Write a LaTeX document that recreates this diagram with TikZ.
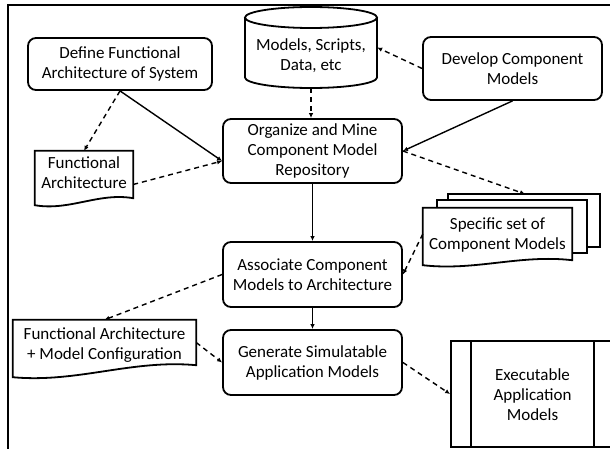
\documentclass[tikz,border=0pt]{standalone}
\usepackage{fontspec}
\setmainfont{Carlito}
\usetikzlibrary{arrows.meta,calc}
\newcommand\mydocpath[2]{%
  \draw[shapeline] ($(#1.south west)+(0pt,-#2)$) -- (#1.north west) -- (#1.north east) -- (#1.south east)
    .. controls ($(#1.south east)!0.35!(#1.south west)+(0pt,6pt)$) and ($(#1.south west)!0.35!(#1.south east)+(0pt,-#2-6pt)$)
    .. ($(#1.south west)+(0pt,-#2)$) -- cycle;}
\begin{document}
\begin{tikzpicture}[x=1pt,y=-1pt,
  font=\fontsize{17}{20}\selectfont,
  box/.style={draw, line width=1.8pt, rounded corners=8pt, align=center, inner sep=0pt, minimum width=179pt},
  plain/.style={align=center, inner sep=0pt},
  flow/.style={line width=1.4pt, -{Latex[length=5pt,width=4.5pt]}},
  dflow/.style={flow, dash pattern=on 5pt off 4pt},
  shapeline/.style={line width=1.8pt, fill=white, line join=miter}]
\useasboundingbox (0,0) rectangle (610,449);
% frame
\draw[line width=2.2pt] (8,460) -- (8,5) -- (620,5);

% process boxes
\node[box, minimum width=184pt, minimum height=52pt] (define) at (120,64) {Define Functional\\Architecture of System};
\node[box, minimum height=63pt] (develop) at (512.5,68.5) {Develop Component\\Models};
\node[box, minimum height=64pt] (organize) at (312.5,151) {Organize and Mine\\Component Model\\Repository};
\node[box, minimum height=65pt] (associate) at (312.5,274.5) {Associate Component\\Models to Architecture};
\node[box, minimum height=65pt] (generate) at (312.5,362.5) {Generate Simulatable\\Application Models};

% database cylinder
\node[plain, minimum width=132pt, minimum height=81pt] (db) at (311,47.5) {};
\draw[line width=1.8pt] (245,17.5) -- (245,77.5) arc[start angle=180, end angle=360, x radius=66pt, y radius=10.5pt] -- (377,17.5);
\draw[line width=1.8pt] (311,17.5) ellipse [x radius=66pt, y radius=10.5pt];
\node[plain] (dbtext) at (311,56) {Models, Scripts,\\Data, etc};

% documents
\node[plain, minimum width=98pt, minimum height=47pt] (fadoc) at (84,174.5) {};
\mydocpath{fadoc}{7pt}
\node[plain] (fadoctext) at (84,173) {Functional\\Architecture};

\node[plain, minimum width=183pt, minimum height=45pt] (famc) at (104.5,342.5) {};
\mydocpath{famc}{12pt}
\node[plain] (famctext) at (104.5,345) {Functional Architecture\\+ Model Configuration};

\draw[shapeline] (448,194) rectangle (600,247);
\draw[shapeline] (437,200) rectangle (587,253);
\node[plain, minimum width=149pt, minimum height=52pt] (spec) at (497.5,234) {};
\mydocpath{spec}{5pt}
\node[plain] (spectext) at (497.5,235) {Specific set of\\Component Models};
\coordinate (specback) at (525,194);

% predefined process
\node[draw, line width=1.8pt, minimum width=163pt, minimum height=106pt, inner sep=0pt] (exec) at (532.5,394) {};
\draw[line width=1.8pt] ($(exec.north west)+(21pt,0pt)$) -- ($(exec.south west)+(21pt,0pt)$);
\draw[line width=1.8pt] ($(exec.north east)+(-21pt,0pt)$) -- ($(exec.south east)+(-21pt,0pt)$);
\node[plain] (exectext) at (532.5,395) {Executable\\Application\\Models};

% connectors
\coordinate (orgin) at ($(organize.west)+(0pt,-10pt)$);
\coordinate (fastart) at ($(fadoc.east)+(0pt,-10pt)$);
\draw[flow] (define.south) -- (orgin);
\draw[dflow] (define.south) -- (fadoc.north);
\draw[dflow] (fastart) -- (orgin);
\draw[dflow] (db.south) -- (db.south |- organize.north);
\draw[dflow] (develop.west) -- (db.east);
\draw[flow] (develop.south) -- (organize.east);
\draw[dflow] (organize.east) -- (specback);
\draw[flow] (organize.south) -- (associate.north);
\draw[dflow] (spec.west) -- (associate.east);
\draw[dflow] (associate.west) -- (famc.north);
\draw[flow] (associate.south) -- (generate.north);
\draw[dflow] (famc.east) -- (generate.west);
\draw[dflow] (generate.east) -- (exec.west);
\end{tikzpicture}
\end{document}
